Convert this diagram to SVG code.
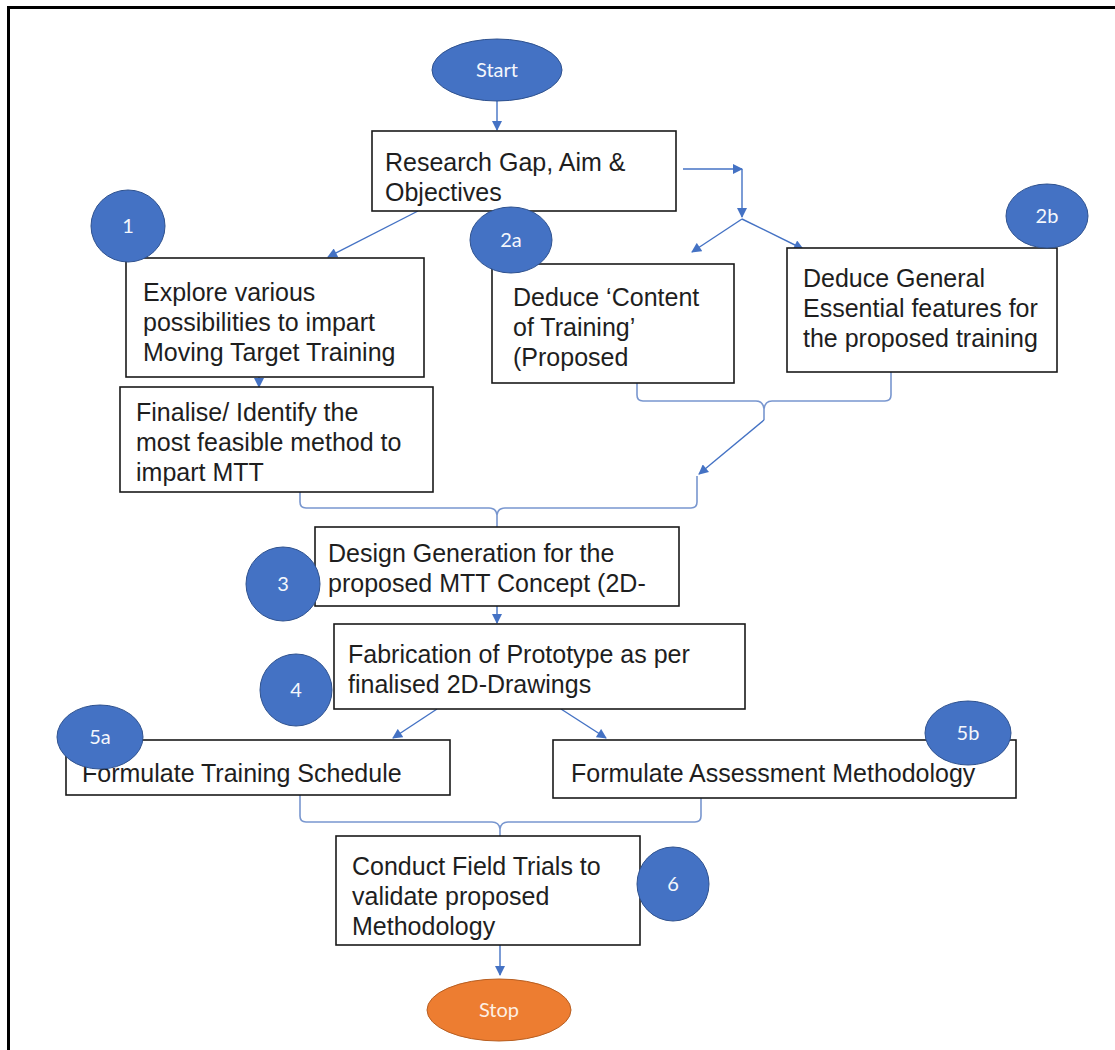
<svg xmlns="http://www.w3.org/2000/svg" width="1115" height="1050" viewBox="0 0 1115 1050">
<defs>
<style>
.box{fill:#fff;stroke:#1a1a1a;stroke-width:1.6}
.t{font-family:"Liberation Sans",Arial,sans-serif;font-size:25px;fill:#1e1e1e}
.bub{fill:#4472C4;stroke:#2F528F;stroke-width:1}
.bt{font-family:Lato,"Open Sans",sans-serif;font-size:20px;fill:#f4f7fc;text-anchor:middle}
.con{fill:none;stroke:#4472C4;stroke-width:1.4}
.brace{fill:none;stroke:#7896CF;stroke-width:1.6}
</style>
<marker id="ah" viewBox="0 0 10 10" refX="9" refY="5" markerWidth="11" markerHeight="10" markerUnits="userSpaceOnUse" orient="auto">
<path d="M0,0 L10,5 L0,10 Z" fill="#4472C4"/>
</marker>
</defs>
<rect width="1115" height="1050" fill="#fff"/>
<path d="M8.5,1050 V7.5 H1115" fill="none" stroke="#000" stroke-width="3"/>

<g id="connectors">
<line class="con" x1="497" y1="101" x2="497" y2="130" marker-end="url(#ah)"/>
<line class="con" x1="418" y1="211" x2="328" y2="257" marker-end="url(#ah)"/>
<line class="con" x1="683" y1="169" x2="742" y2="169" marker-end="url(#ah)"/>
<line class="con" x1="742" y1="169" x2="742" y2="217" marker-end="url(#ah)"/>
<line class="con" x1="742" y1="219" x2="692" y2="252" marker-end="url(#ah)"/>
<line class="con" x1="742" y1="219" x2="803" y2="249" marker-end="url(#ah)"/>
<line class="con" x1="259" y1="377" x2="259" y2="387" marker-end="url(#ah)"/>
<path class="brace" d="M637,372 V395 Q637,401 643,401 H756 Q763,401 764,409 M891,372 V395 Q891,401 885,401 H772 Q765,401 764,409 V420"/>
<line class="con" x1="764" y1="420" x2="699" y2="474" marker-end="url(#ah)"/>
<path class="brace" d="M300,492 V502 Q300,508 306,508 H489 Q496,508 497,515 M697,476 V502 Q697,508 691,508 H505 Q498,508 497,515 V527"/>
<line class="con" x1="497" y1="606" x2="497" y2="623" marker-end="url(#ah)"/>
<line class="con" x1="437" y1="709" x2="393" y2="738" marker-end="url(#ah)"/>
<line class="con" x1="561" y1="709" x2="606" y2="738" marker-end="url(#ah)"/>
<path class="brace" d="M300,795 V816 Q300,822 306,822 H492 Q499,822 500,829 M701,798 V816 Q701,822 695,822 H508 Q501,822 500,829 V836"/>
<line class="con" x1="500" y1="945" x2="500" y2="975" marker-end="url(#ah)"/>
</g>

<g id="start">
<ellipse cx="497" cy="70" rx="65" ry="31" class="bub"/>
<text x="497" y="77" class="bt">Start</text>
</g>
<g id="research">
<rect x="372" y="131" width="304" height="80" class="box"/>
<text class="t"><tspan x="385" y="171">Research Gap, Aim &amp;</tspan><tspan x="385" y="201">Objectives</tspan></text>
</g>
<g id="explore">
<rect x="126" y="258" width="298" height="119" class="box"/>
<text class="t"><tspan x="143" y="301">Explore various</tspan><tspan x="143" y="331">possibilities to impart</tspan><tspan x="143" y="361">Moving Target Training</tspan></text>
</g>
<g id="finalise">
<rect x="120" y="387" width="313" height="105" class="box"/>
<text class="t"><tspan x="136" y="421">Finalise/ Identify the</tspan><tspan x="136" y="451">most feasible method to</tspan><tspan x="136" y="481">impart MTT</tspan></text>
</g>
<g id="content">
<rect x="492" y="264" width="242" height="119" class="box"/>
<text class="t"><tspan x="513" y="306">Deduce ‘Content</tspan><tspan x="513" y="336">of Training’</tspan><tspan x="513" y="366">(Proposed</tspan></text>
</g>
<g id="general">
<rect x="787" y="248" width="270" height="124" class="box"/>
<text class="t"><tspan x="803" y="287">Deduce General</tspan><tspan x="803" y="317">Essential features for</tspan><tspan x="803" y="347">the proposed training</tspan></text>
</g>
<g id="design">
<rect x="315" y="527" width="364" height="79" class="box"/>
<text class="t"><tspan x="328" y="562">Design Generation for the</tspan><tspan x="328" y="592">proposed MTT Concept (2D-</tspan></text>
</g>
<g id="fabrication">
<rect x="334" y="624" width="411" height="85" class="box"/>
<text class="t"><tspan x="348" y="663">Fabrication of Prototype as per</tspan><tspan x="348" y="693">finalised 2D-Drawings</tspan></text>
</g>
<g id="schedule">
<rect x="66" y="740" width="384" height="55" class="box"/>
<text x="82" y="782" class="t">Formulate Training Schedule</text>
</g>
<g id="assessment">
<rect x="553" y="740" width="463" height="58" class="box"/>
<text x="571" y="782" class="t">Formulate Assessment Methodology</text>
</g>
<g id="conduct">
<rect x="336" y="836" width="304" height="109" class="box"/>
<text class="t"><tspan x="352" y="875">Conduct Field Trials to</tspan><tspan x="352" y="905">validate proposed</tspan><tspan x="352" y="935">Methodology</tspan></text>
</g>
<g id="stop">
<ellipse cx="499" cy="1010" rx="72" ry="31" fill="#ED7D31" stroke="#B85F22" stroke-width="1"/>
<text x="499" y="1017" class="bt" style="fill:#fdf0e4">Stop</text>
</g>
<g id="n1"><ellipse cx="128" cy="226" rx="37" ry="36" class="bub"/><text x="128" y="233" class="bt">1</text></g>
<g id="n2a"><ellipse cx="511" cy="240" rx="41" ry="33" class="bub"/><text x="511" y="247" class="bt">2a</text></g>
<g id="n2b"><ellipse cx="1047" cy="216" rx="41" ry="32" class="bub"/><text x="1047" y="223" class="bt">2b</text></g>
<g id="n3"><ellipse cx="283" cy="584" rx="37" ry="37" class="bub"/><text x="283" y="591" class="bt">3</text></g>
<g id="n4"><ellipse cx="296" cy="690" rx="36" ry="36" class="bub"/><text x="296" y="697" class="bt">4</text></g>
<g id="n5a"><ellipse cx="100" cy="737" rx="43" ry="32" class="bub"/><text x="100" y="744" class="bt">5a</text></g>
<g id="n5b"><ellipse cx="968" cy="733" rx="43" ry="32" class="bub"/><text x="968" y="740" class="bt">5b</text></g>
<g id="n6"><ellipse cx="673" cy="884" rx="36" ry="37" class="bub"/><text x="673" y="891" class="bt">6</text></g>
</svg>
